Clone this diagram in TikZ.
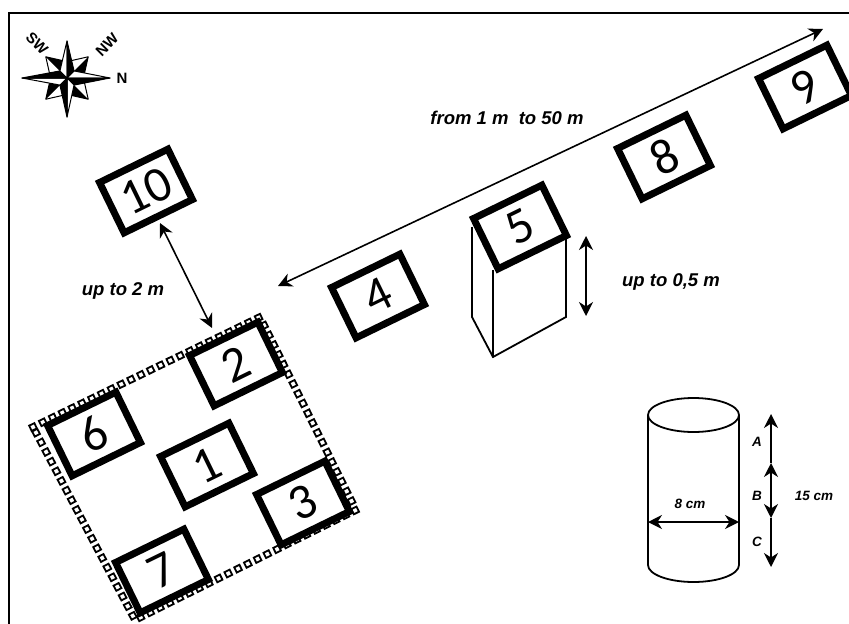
\documentclass[tikz,border=0pt]{standalone}
\usepackage{fontspec}
\setmainfont{Liberation Sans}
\newfontfamily\digitfont{Carlito}
\usetikzlibrary{arrows.meta,decorations.markings}

\begin{document}
\begin{tikzpicture}[x=1pt, y=-1pt, >={Stealth[length=14pt, width=14pt, inset=4.5pt]},
  trap/.style={rectangle, draw, line width=7pt, fill=white, rotate=26, minimum width=76pt, minimum height=56pt, inner sep=0pt, font=\digitfont\fontsize{50}{50}\selectfont},
  note/.style={font=\fontsize{18.5}{19}\selectfont\bfseries\itshape},
  small/.style={font=\fontsize{13.5}{14}\selectfont\bfseries\itshape},
  wind/.style={font=\fontsize{15}{15}\selectfont\bfseries},
  span/.style={line width=1.6pt},
  body/.style={line width=1.8pt},
  plot/.style={decorate, decoration={markings, mark=between positions 0 and 1 step 10.9pt with {\draw[line width=1.8pt, fill=white] (-2.9,-2.9) rectangle (2.9,2.9);}}}]
\useasboundingbox (0,0) rectangle (849,624);
% frame
\draw[line width=2pt] (9,624) -- (9,12.5) -- (849,12.5);
% compass
\begin{scope}[shift={(67,78)}]
\foreach \a in {45,135,225,315} {
  \draw[line width=1pt, fill=white, line join=round] (0,0) -- (\a-38:17) -- (\a:30) -- (\a+38:17) -- cycle;
  \fill (0,0) -- (\a:30) -- (\a+38:17) -- cycle;
}
\foreach \a/\r in {0/43,90/39,180/45,270/37} {
  \draw[line width=1pt, fill=white, line join=round] (0,0) -- (\a:\r) -- (\a-45:10) -- cycle;
  \draw[line width=1pt, fill=black, line join=round] (0,0) -- (\a:\r) -- (\a+45:10) -- cycle;
}
\end{scope}
\node[wind, rotate=-45] (sw) at (37,43) {SW};
\node[wind, rotate=45] (nw) at (107,45) {NW};
\node[wind] (n) at (122,78) {N};
% plot border
\draw[plot] (33,427) -- (260,317) -- (356,510) -- (135,620) -- cycle;
% pillar under 5
\draw[body] (472,227) -- (472,317) -- (493,357) -- (566,317) -- (566,238);
\draw[body] (493,270) -- (493,357);
% traps
\node[trap] (t1) at (207,465) {1};
\node[trap] (t2) at (236,364) {2};
\node[trap] (t3) at (303,503) {3};
\node[trap] (t4) at (378,296) {4};
\node[trap] (t5) at (520,227) {5};
\node[trap] (t6) at (94,434) {6};
\node[trap] (t7) at (162,571) {7};
\node[trap] (t8) at (664,157) {8};
\node[trap] (t9) at (805,87) {9};
\node[trap] (t10) at (146,191) {10};
% distances
\coordinate (near) at (278,286);
\coordinate (far) at (823,29);
\coordinate (below10) at (160,223);
\coordinate (plottop) at (212,328);
\coordinate (high) at (586,236);
\coordinate (low) at (586,316);
\draw[<->, span] (near) -- (far);
\draw[<->, span] (below10) -- (plottop);
\draw[<->, span] (high) -- (low);
\node[note] (far label) at (507,118) {from 1 m\ \ to 50 m};
\node[note] (gap label) at (123,291) {up to 2 m};
\node[note] (height label) at (671,282) {up to 0,5 m};
% cylinder
\draw[body] (693.5,415) ellipse [x radius=45.5, y radius=17];
\draw[body] (648,415) -- (648,565) arc [start angle=180, end angle=0, x radius=45.5, y radius=17] -- (739,415);
\coordinate (cylleft) at (648,522);
\coordinate (cylright) at (739,522);
\coordinate (top) at (771,414);
\coordinate (ab) at (771,463);
\coordinate (bc) at (771,518);
\coordinate (bottom) at (771,567);
\draw[<->, span] (cylleft) -- (cylright);
\draw[<-, span] (top) -- (ab);
\draw[<->, span] (ab) -- (bc);
\draw[->, span] (bc) -- (bottom);
\node[small] (width label) at (690,504) {8 cm};
\node[small] (a) at (757,442) {A};
\node[small] (b) at (757,496) {B};
\node[small] (c) at (757,542) {C};
\node[small] (length label) at (814,496) {15 cm};
\end{tikzpicture}
\end{document}
